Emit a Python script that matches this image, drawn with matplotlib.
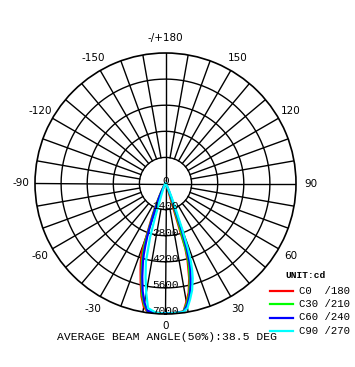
import numpy as np
import matplotlib
matplotlib.use('Agg')
import matplotlib.pyplot as plt

# gamma angles (deg) and intensities (cd) for each half plane
gamma = [0, 4, 8, 10, 12, 14, 16, 17, 18, 19, 20, 22, 24, 26, 28, 30, 35, 40, 50, 90]

c0 = [6960, 6960, 6930, 6450, 5980, 5250, 4300, 3650, 1000, 700, 500, 300, 180, 110, 70, 40, 15, 5, 0, 0]
c180 = [6960, 6960, 6950, 6710, 6200, 5500, 4850, 4550, 4250, 3900, 2900, 1900, 1200, 650, 300, 150, 40, 10, 0, 0]
c30 = [6960, 6960, 6940, 6550, 6100, 5400, 4550, 4000, 2500, 1500, 1000, 550, 320, 190, 110, 60, 20, 5, 0, 0]
c210 = [6960, 6960, 6920, 6600, 6050, 5300, 4600, 4250, 3850, 3400, 2600, 1700, 1050, 580, 280, 140, 35, 8, 0, 0]
c60 = [6960, 6960, 6950, 6650, 6200, 5600, 4850, 4400, 3700, 2800, 1700, 900, 500, 280, 150, 80, 25, 5, 0, 0]
c240 = [6960, 6960, 6900, 6500, 5900, 5150, 4400, 4000, 3500, 3000, 2400, 1500, 900, 500, 250, 120, 30, 5, 0, 0]
c90 = [6970, 6970, 6960, 6780, 6350, 5900, 5300, 4900, 4400, 3700, 2700, 1350, 800, 450, 250, 120, 40, 10, 0, 0]
c270 = [6970, 6960, 6750, 5950, 5150, 4350, 3000, 2000, 1150, 800, 600, 350, 200, 120, 70, 40, 15, 5, 0, 0]

planes = [('C0  /180', c0, c180, 'red'),
          ('C30 /210', c30, c210, '#00ff00'),
          ('C60 /240', c60, c240, 'blue'),
          ('C90 /270', c90, c270, 'cyan')]

rings = [1400, 2800, 4200, 5600, 7000]
angle_labels = {0: '0', 30: '30', 60: '60', 90: '90', 120: '120', 150: '150', 180: '-/+180',
                -30: '-30', -60: '-60', -90: '-90', -120: '-120', -150: '-150'}
beam_text = 'AVERAGE BEAM ANGLE(50%):38.5 DEG'

W, H = 355, 367
fig = plt.figure(figsize=(W / 100, H / 100), dpi=100)
cx, cy, R = 165.5, 183.5, 130.5
ax = fig.add_axes([(cx - R) / W, (H - cy - R) / H, 2 * R / W, 2 * R / H], projection='polar')
ax.set_theta_zero_location('S')
ax.set_theta_direction(1)
ax.set_ylim(0, 7000)
ax.grid(False)
ax.set_xticks([])
ax.set_yticks([])
ax.spines['polar'].set_linewidth(1.2)

# grid: rings, spokes every 10 deg outside the hub, axis cross through center
t = np.linspace(0, 2 * np.pi, 361)
for r in rings[:-1]:
    ax.plot(t, np.full_like(t, r), color='black', lw=1.0)
for a in range(0, 360, 10):
    r0 = 0 if a % 90 == 0 else rings[0]
    ax.plot([np.radians(a)] * 2, [r0, 7000], color='black', lw=1.0)

# curves
for name, right, left, col in planes:
    th = np.concatenate([-np.radians(gamma[::-1]), np.radians(gamma)])
    rr = np.concatenate([left[::-1], right])
    ax.plot(th, rr, color=col, lw=1.6)

# radial labels
ax.text(np.pi, 160, '0', ha='center', va='center', family='Liberation Mono', fontsize=8)
for r in rings:
    ax.text(0, r - 170, str(r), ha='center', va='center', family='Liberation Mono', fontsize=8)

# angle labels
for a, s in angle_labels.items():
    rl = 7620 if a == 0 else 7780
    ax.text(np.radians(a), rl, s, ha='center', va='center', fontsize=7.5, clip_on=False)

# legend
fig.text(285 / W, 1 - 275 / H, 'UNIT:cd', family='Liberation Mono', weight='bold',
         fontsize=6.8, ha='left', va='center')
for i, (name, right, left, col) in enumerate(planes):
    y = 1 - (290.7 + 13.4 * i) / H
    fig.add_artist(plt.Line2D([270 / W, 293 / W], [y, y], color=col, lw=1.6))
    fig.text(299 / W, y, name, family='Liberation Mono', fontsize=7.7, ha='left', va='center')

fig.text(57 / W, 1 - 337 / H, beam_text, family='Liberation Mono', fontsize=8.2,
         ha='left', va='center')

fig.savefig('out.png', dpi=100, facecolor='white')
